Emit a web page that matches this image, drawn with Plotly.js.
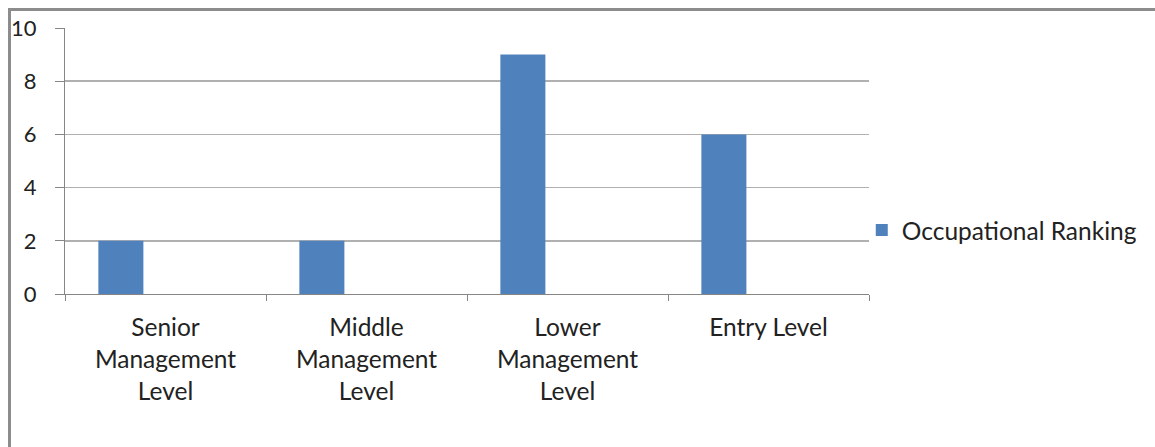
<!DOCTYPE html>
<html>
<head>
<meta charset="utf-8">
<script src="https://cdn.plot.ly/plotly-3.0.1.min.js"></script>
<style>
  html, body { margin: 0; padding: 0; background: #fff; }
  #wrap { position: relative; width: 1155px; height: 447px; overflow: hidden; }
  #chart { width: 1155px; height: 447px; }
  #frame { position: absolute; left: 8px; top: 8px; width: 1200px; height: 500px;
           border-left: 3px solid #8c8c8c; border-top: 3px solid #8c8c8c; pointer-events: none; }
</style>
</head>
<body>
<div id="wrap">
  <div id="chart"></div>
  <div id="frame"></div>
</div>
<script>
const categories = ["Senior Management Level", "Middle Management Level", "Lower Management Level", "Entry Level"];
const tickLabels = ["Senior<br>Management<br>Level", "Middle<br>Management<br>Level", "Lower<br>Management<br>Level", "Entry Level"];
const seriesName = "Occupational Ranking";
const values = [2, 2, 9, 6];
const yTicks = [0, 2, 4, 6, 8, 10];

const FONT = "Lato, 'Open Sans', sans-serif";

const trace = {
  type: "bar",
  name: seriesName,
  x: categories,
  y: values,
  width: 0.224,
  offset: -0.334,
  marker: { color: "#4F81BD", line: { width: 0 } },
  showlegend: true,
  hoverinfo: "x+y"
};

const layout = {
  width: 1155,
  height: 447,
  margin: { l: 64.5, r: 286, t: 28, b: 153 },
  paper_bgcolor: "#ffffff",
  plot_bgcolor: "#ffffff",
  font: { family: FONT, size: 22, color: "#222222" },
  showlegend: true,
  legend: {
    x: 0.991, xanchor: "left",
    y: 0.24, yanchor: "middle",
    font: { family: FONT, size: 24.5, color: "#222222" },
    bgcolor: "rgba(0,0,0,0)"
  },
  xaxis: {
    type: "category",
    tickmode: "array",
    tickvals: categories,
    ticktext: tickLabels,
    range: [-0.5, 3.5],
    tickson: "boundaries",
    ticks: "outside",
    ticklen: 6,
    tickcolor: "#868686",
    ticklabelstandoff: 12,
    showline: true,
    linecolor: "#868686",
    linewidth: 1,
    showgrid: false,
    zeroline: false,
    tickfont: { family: FONT, size: 24.5, color: "#222222" },
    fixedrange: true
  },
  yaxis: {
    range: [0, 10],
    tickmode: "array",
    tickvals: yTicks,
    ticktext: yTicks.map(String),
    ticks: "outside",
    ticklen: 9,
    tickcolor: "#868686",
    ticklabelstandoff: 14,
    showline: true,
    linecolor: "#868686",
    linewidth: 1,
    showgrid: true,
    gridcolor: "#B0B0B0",
    gridwidth: 1.5,
    zeroline: false,
    tickfont: { family: FONT, size: 22, color: "#222222" },
    fixedrange: true
  }
};

Plotly.newPlot("chart", [trace], layout, { displayModeBar: false, staticPlot: true });
</script>
</body>
</html>
